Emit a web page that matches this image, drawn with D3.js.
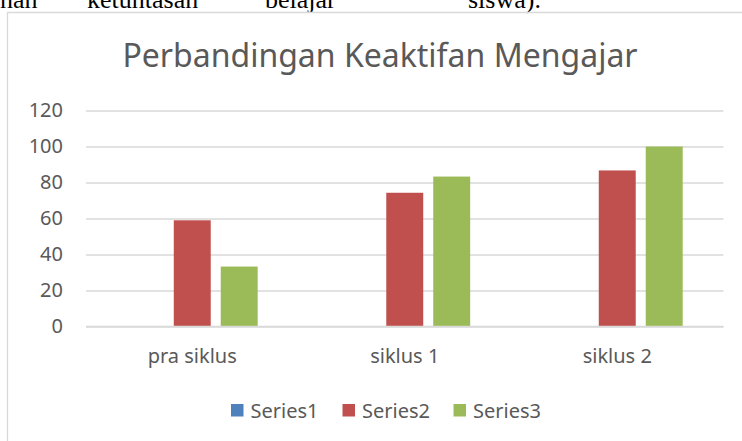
<!DOCTYPE html>
<html>
<head>
<meta charset="utf-8">
<script src="https://cdn.jsdelivr.net/npm/d3@7"></script>
<style>
  body { margin: 0; background: #fff; }
  svg { display: block; }
</style>
</head>
<body>
<svg width="742" height="441"></svg>
<script>
var categories = ["pra siklus", "siklus 1", "siklus 2"],
    seriesNames = ["Series1", "Series2", "Series3"],
    series1 = [0, 0, 0],
    series2 = [59, 74.3, 86.7],
    series3 = [33.3, 83.3, 100],
    yTicks = [0, 20, 40, 60, 80, 100, 120],
    docWords = ["nan", "ketuntasan", "belajar", "siswa)."];

var colors = ["#4f81bd", "#c0504d", "#9bbb59"],
    textColor = "#595959",
    gridColor = "#d9d9d9",
    font = "'Noto Sans', 'Open Sans', sans-serif";

var svg = d3.select("svg");
var allSeries = [series1, series2, series3];

// line of document text cut off above the chart
var wordX = [0, 87, 265, 468];
svg.selectAll("text.doc")
    .data(docWords).enter().append("text")
    .attr("class", "doc")
    .attr("x", function (d, i) { return wordX[i]; })
    .attr("y", 8)
    .style("font-family", "'Liberation Serif', 'Times New Roman', serif")
    .style("font-size", "26px")
    .attr("fill", "#000")
    .text(function (d) { return d; });

// chart area border (runs off the right and bottom edge)
svg.append("path")
    .attr("d", "M7.5,441 L7.5,12.5 L742,12.5")
    .attr("fill", "none")
    .attr("stroke", gridColor)
    .attr("stroke-width", 1.3);

svg.append("text")
    .attr("x", 380)
    .attr("y", 67)
    .attr("text-anchor", "middle")
    .style("font-family", font)
    .style("font-size", "32px")
    .attr("fill", textColor)
    .text("Perbandingan Keaktifan Mengajar");

var x0 = d3.scaleBand()
    .domain(categories)
    .range([86, 723.5])
    .padding(0);

var x1 = d3.scaleBand()
    .domain(seriesNames)
    .range([0, x0.bandwidth()])
    .paddingInner(0.213)
    .paddingOuter(0.869);

var y = d3.scaleLinear()
    .domain([0, 120])
    .range([326.5, 110.5]);

// gridlines + y labels
var yAxis = svg.append("g")
    .attr("transform", "translate(86,0)")
    .call(d3.axisLeft(y).tickValues(yTicks).tickSize(-(723.5 - 86)).tickPadding(23));
yAxis.select(".domain").remove();
yAxis.selectAll(".tick line")
    .attr("stroke", gridColor)
    .attr("stroke-width", 1.3);
yAxis.selectAll(".tick text")
    .style("font-family", font)
    .style("font-size", "20px")
    .attr("fill", textColor);

// bars
var groups = svg.selectAll("g.cat")
    .data(categories).enter().append("g")
    .attr("class", "cat")
    .attr("transform", function (d) { return "translate(" + x0(d) + ",0)"; });

groups.selectAll("rect")
    .data(function (d, i) {
        return seriesNames.map(function (s, j) {
            return {series: s, value: allSeries[j][i], color: colors[j]};
        });
    })
    .enter().append("rect")
    .attr("x", function (d) { return x1(d.series); })
    .attr("width", x1.bandwidth())
    .attr("y", function (d) { return y(d.value); })
    .attr("height", function (d) { return y(0) - y(d.value); })
    .attr("fill", function (d) { return d.color; });

// baseline
svg.append("line")
    .attr("x1", 86).attr("x2", 723.5)
    .attr("y1", y(0)).attr("y2", y(0))
    .attr("stroke", gridColor)
    .attr("stroke-width", 1.5);

// category labels
var xAxis = svg.append("g")
    .attr("transform", "translate(0," + y(0) + ")")
    .call(d3.axisBottom(x0).tickSize(0).tickPadding(22));
xAxis.select(".domain").remove();
xAxis.selectAll(".tick text")
    .style("font-family", font)
    .style("font-size", "20px")
    .attr("fill", textColor);

// legend
var legendX = [231, 342.5, 453.5];
var legend = svg.selectAll("g.legend")
    .data(seriesNames).enter().append("g")
    .attr("class", "legend")
    .attr("transform", function (d, i) { return "translate(" + legendX[i] + ",404)"; });
legend.append("rect")
    .attr("width", 12.5).attr("height", 12.5)
    .attr("fill", function (d, i) { return colors[i]; });
legend.append("text")
    .attr("x", 19.5)
    .attr("y", 14)
    .style("font-family", font)
    .style("font-size", "20px")
    .attr("fill", textColor)
    .text(function (d) { return d; });
</script>
</body>
</html>
